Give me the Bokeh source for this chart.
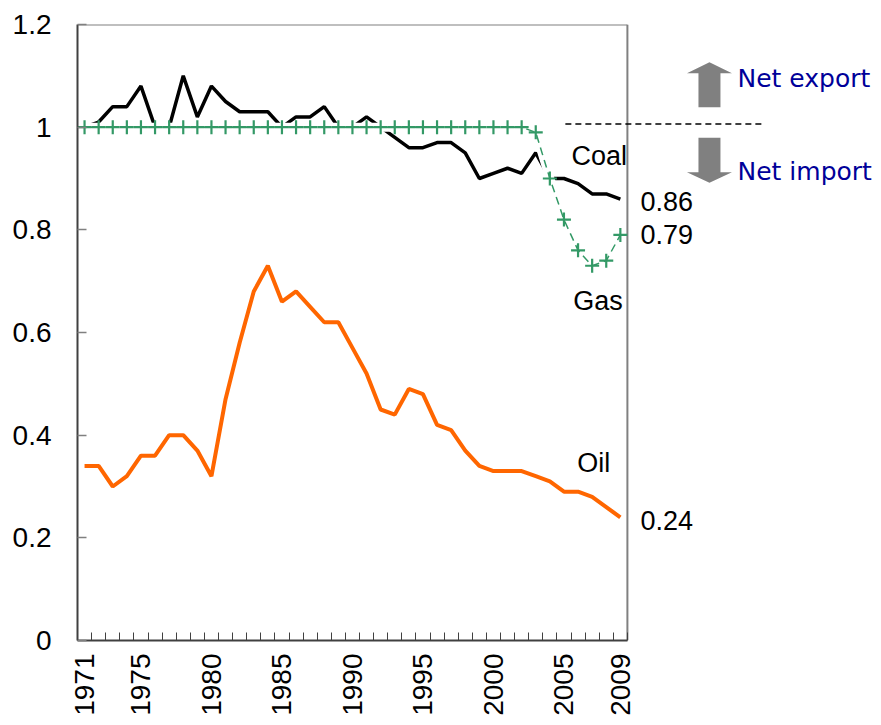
from bokeh.plotting import figure
from bokeh.models import Range1d, FixedTicker, CustomJSTickFormatter, Label, ColumnDataSource
from bokeh.embed import file_html
from bokeh.resources import INLINE
import math

years = [1971, 1972, 1973, 1974, 1975, 1976, 1977, 1978, 1979, 1980,
         1981, 1982, 1983, 1984, 1985, 1986, 1987, 1988, 1989, 1990,
         1991, 1992, 1993, 1994, 1995, 1996, 1997, 1998, 1999, 2000,
         2001, 2002, 2003, 2004, 2005, 2006, 2007, 2008, 2009]
coal = [1.00, 1.01, 1.04, 1.04, 1.08, 1.00, 1.00, 1.10, 1.02, 1.08,
        1.05, 1.03, 1.03, 1.03, 1.00, 1.02, 1.02, 1.04, 1.00, 1.00,
        1.02, 1.00, 0.98, 0.96, 0.96, 0.97, 0.97, 0.95, 0.90, 0.91,
        0.92, 0.91, 0.95, 0.90, 0.90, 0.89, 0.87, 0.87, 0.86]
gas = [1.00, 1.00, 1.00, 1.00, 1.00, 1.00, 1.00, 1.00, 1.00, 1.00,
       1.00, 1.00, 1.00, 1.00, 1.00, 1.00, 1.00, 1.00, 1.00, 1.00,
       1.00, 1.00, 1.00, 1.00, 1.00, 1.00, 1.00, 1.00, 1.00, 1.00,
       1.00, 1.00, 0.99, 0.90, 0.82, 0.76, 0.73, 0.74, 0.79]
oil = [0.34, 0.34, 0.30, 0.32, 0.36, 0.36, 0.40, 0.40, 0.37, 0.32,
       0.47, 0.58, 0.68, 0.73, 0.66, 0.68, 0.65, 0.62, 0.62, 0.57,
       0.52, 0.45, 0.44, 0.49, 0.48, 0.42, 0.41, 0.37, 0.34, 0.33,
       0.33, 0.33, 0.32, 0.31, 0.29, 0.29, 0.28, 0.26, 0.24]
label_years = [1971, 1975, 1980, 1985, 1990, 1995, 2000, 2005, 2009]
y_ticks = [0, 0.2, 0.4, 0.6, 0.8, 1.0, 1.2]

OIL_C = "#FF6600"
GAS_C = "#339966"
NAVY = "#000099"
GREY = "#808080"
AXIS_C = "#404040"
FONT = "Liberation Sans"

W, H = 880, 720
ML, MT, MB, MR = 77, 24, 80, 0
px_per_year = 14.1
x0 = years[0] - 0.5
x1 = years[-1] + 0.5
frame_w = W - ML - MR
x_end = x0 + frame_w / px_per_year

p = figure(width=W, height=H, output_backend="svg", toolbar_location=None,
           x_range=Range1d(x0, x_end), y_range=Range1d(0, 1.2),
           min_border_left=ML, min_border_top=MT, min_border_bottom=MB,
           min_border_right=MR)
p.outline_line_color = None
p.grid.visible = False
p.background_fill_color = "white"
p.border_fill_color = "white"

# x axis
boundaries = [y - 0.5 for y in years] + [x1]
xa = p.xaxis[0]
xa.ticker = FixedTicker(ticks=label_years, minor_ticks=boundaries)
xa.bounds = (x0, x1)
xa.axis_line_color = AXIS_C
xa.axis_line_width = 2
xa.major_tick_in = 0
xa.major_tick_out = 0
xa.minor_tick_in = 8
xa.minor_tick_out = 0
xa.minor_tick_line_color = AXIS_C
xa.minor_tick_line_width = 1
xa.major_label_orientation = math.pi / 2
xa.major_label_standoff = 13
xa.major_label_text_font = FONT
xa.major_label_text_font_size = "28px"
xa.major_label_text_color = "black"

# y axis
ya = p.yaxis[0]
ya.ticker = FixedTicker(ticks=y_ticks)
ya.formatter = CustomJSTickFormatter(code="return tick.toFixed(1).replace(/\\.0$/, '');")
ya.axis_line_color = AXIS_C
ya.axis_line_width = 2
ya.major_tick_in = 9
ya.major_tick_out = 0
ya.major_tick_line_color = GREY
ya.major_tick_line_width = 1.5
ya.minor_tick_line_color = None
ya.major_label_standoff = 26
ya.major_label_text_font = FONT
ya.major_label_text_font_size = "28px"
ya.major_label_text_color = "black"

# plot-area borders (top and right)
p.segment(x0=[x0, x1], y0=[1.2, 0], x1=[x1, x1], y1=[1.2, 1.2],
          line_color=GREY, line_width=2)

src = ColumnDataSource(dict(year=years, coal=coal, gas=gas, oil=oil))

p.line("year", "oil", source=src, line_color=OIL_C, line_width=4)
p.line("year", "coal", source=src, line_color="black", line_width=3.5)
# white halo under the gas series (it hides the coal line where they overlap)
p.line("year", "gas", source=src, line_color="white", line_width=9)
p.line("year", "gas", source=src, line_color=GAS_C, line_width=1.5, line_dash="8 5")
p.scatter("year", "gas", source=src, marker="cross", size=14,
          line_color=GAS_C, line_width=2.2)

# dashed reference line at 1 (net export / import boundary)
p.line(x=[2005.1, 2019.15], y=[1.006, 1.006], line_color="black",
       line_width=1.5, line_dash="6 4")

# arrows
ax = 2015.32
sw = 11 / px_per_year
hw = 22.5 / px_per_year
p.patch(x=[ax - sw, ax - sw, ax - hw, ax, ax + hw, ax + sw, ax + sw],
        y=[1.039, 1.1052, 1.1052, 1.1266, 1.1052, 1.1052, 1.039],
        fill_color=GREY, line_color=None)
p.patch(x=[ax - sw, ax - sw, ax - hw, ax, ax + hw, ax + sw, ax + sw],
        y=[0.9793, 0.9123, 0.9123, 0.8916, 0.9123, 0.9123, 0.9793],
        fill_color=GREY, line_color=None)

def add_label(x, y, text, color="black", font=FONT, size="26px"):
    p.add_layout(Label(x=x, y=y, text=text, text_color=color, text_font=font,
                       text_font_size=size, text_align="left",
                       text_baseline="middle"))

add_label(2005.53, 0.943, "Coal", size="27px")
add_label(2005.66, 0.662, "Gas", size="27px")
add_label(2005.94, 0.345, "Oil", size="27px")
vx = years[-1] + 1.43
add_label(vx, coal[-1] - 0.005, f"{coal[-1]:.2f}", size="27px")
add_label(vx, gas[-1], f"{gas[-1]:.2f}", size="27px")
add_label(vx, oil[-1] - 0.006, f"{oil[-1]:.2f}", size="27px")
add_label(2017.31, 1.095, "Net export", color=NAVY, font="DejaVu Sans", size="25px")
add_label(2017.31, 0.914, "Net import", color=NAVY, font="DejaVu Sans", size="25px")

open("out.html", "w").write(file_html(p, INLINE))
